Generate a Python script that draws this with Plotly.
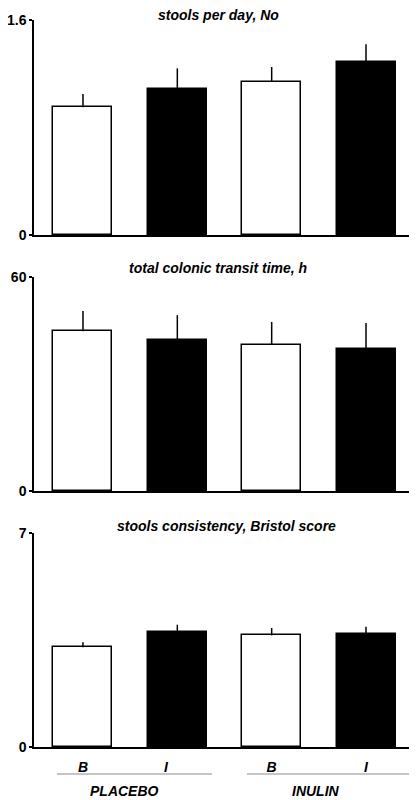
import plotly.graph_objects as go

# bar labels, fills and group names
categories = ["B", "I", "B", "I"]
fills = ["white", "black", "white", "black"]
groups = ["PLACEBO", "INULIN"]

# values (mean and upper error bar)
stools_per_day = [0.95, 1.09, 1.14, 1.29]
stools_per_day_err = [0.10, 0.15, 0.11, 0.13]
transit_time = [44.8, 42.2, 41.0, 39.7]
transit_time_err = [5.7, 7.1, 6.4, 7.4]
bristol = [3.26, 3.77, 3.65, 3.69]
bristol_err = [0.17, 0.23, 0.24, 0.24]

titles = ["stools per day, No", "total colonic transit time, h",
          "stools consistency, Bristol score"]
y_tops = [1.6, 60, 7]
y_top_labels = ["1.6", "60", "7"]

W, H = 417, 800
OFF = 8  # the page body has an 8px margin around the figure
FONT = "Liberation Sans, Arial, sans-serif"


def fx(px):
    return (px - OFF) / W


def fy(px):
    return 1 - (px - OFF) / H


panels = [
    (stools_per_day, stools_per_day_err),
    (transit_time, transit_time_err),
    (bristol, bristol_err),
]
# screen positions of each panel: (zero line, top tick, title y, title x)
panel_px = [(235, 20, 15, 219), (491, 277, 268, 218), (747, 533, 526, 227)]

fig = go.Figure()
xpos = list(range(len(categories)))
# the first "I" label sits a little left of its bar in the original
label_pos = [0, 0.88, 2, 3]

for i, ((vals, errs), (y0, y1, ty, tx)) in enumerate(zip(panels, panel_px), start=1):
    fig.add_trace(go.Bar(
        x=xpos, y=vals, width=0.625,
        marker=dict(color=fills, line=dict(color="black", width=1.5)),
        error_y=dict(type="data", array=errs, arrayminus=[0] * len(errs),
                     symmetric=False, width=0, thickness=1.5, color="black"),
        xaxis=f"x{i}", yaxis=f"y{i}", showlegend=False,
    ))
    last = i == len(panels)
    fig.layout[f"xaxis{i}"] = dict(
        domain=[fx(34), fx(413)], range=[-0.519, 3.498], anchor=f"y{i}",
        showline=True, linecolor="black", linewidth=1.5, automargin=False,
        showgrid=False, zeroline=False, ticks="",
        tickvals=label_pos, ticktext=[f"<b><i>{c}</i></b>" for c in categories],
        showticklabels=last, ticklabelstandoff=6,
        tickfont=dict(family=FONT, size=14, color="black"),
    )
    fig.layout[f"yaxis{i}"] = dict(
        domain=[fy(y0), fy(y1)], range=[0, y_tops[i - 1]], anchor=f"x{i}",
        showline=True, linecolor="black", linewidth=1.5, automargin=False,
        showgrid=False, zeroline=False,
        tickvals=[0, y_tops[i - 1]],
        ticktext=["<b>0</b>", f"<b>{y_top_labels[i - 1]}</b>"],
        ticks="outside", ticklen=3, tickwidth=1.5, tickcolor="black",
        tickfont=dict(family=FONT, size=14, color="black"),
    )
    fig.add_annotation(
        text=f"<b><i>{titles[i - 1]}</i></b>", xref="paper", yref="paper",
        x=fx(tx), y=fy(ty), xanchor="center", yanchor="middle",
        showarrow=False, font=dict(family=FONT, size=14, color="black"),
    )

# group underlines and names under the bottom panel
group_spans = [(-0.275, 1.368), (1.739, 3.498)]
group_centers = [0.44, 2.47]
for (xa, xb), xc, name in zip(group_spans, group_centers, groups):
    fig.add_shape(type="line", xref="x3", yref="paper", x0=xa, x1=xb,
                  y0=fy(774), y1=fy(774),
                  line=dict(color="#8c8c8c", width=1))
    fig.add_annotation(
        text=f"<b><i>{name}</i></b>", xref="x3", yref="paper",
        x=xc, y=fy(791), xanchor="center", yanchor="middle",
        showarrow=False, font=dict(family=FONT, size=14, color="black"),
    )

fig.update_layout(
    width=W, height=H, margin=dict(l=0, r=0, t=0, b=0),
    plot_bgcolor="white", paper_bgcolor="white", bargap=0,
)

fig.write_html("out.html")
